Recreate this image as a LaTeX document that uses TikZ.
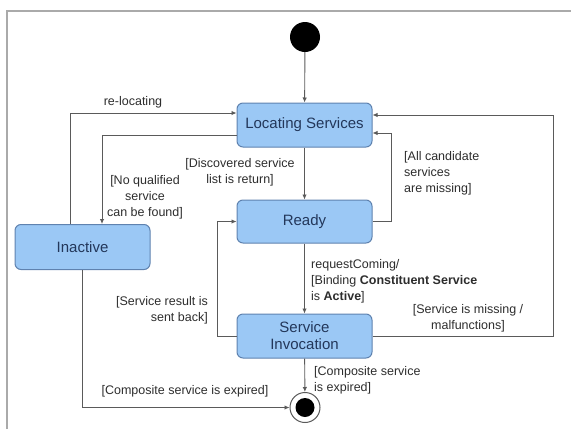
\documentclass[tikz,border=0pt]{standalone}
\usepackage{fontspec}
\setmainfont{Liberation Sans}
\usetikzlibrary{arrows.meta}
\definecolor{boxfill}{RGB}{155,200,245}
\definecolor{boxdraw}{RGB}{95,130,175}
\definecolor{boxtext}{RGB}{35,55,90}
\definecolor{lbl}{RGB}{45,45,45}
\definecolor{ln}{RGB}{90,90,90}
\definecolor{framec}{RGB}{170,170,170}
\tikzset{
  state/.style={draw=boxdraw, fill=boxfill, rounded corners=6pt, line width=1pt,
    minimum width=135pt, minimum height=44pt, inner sep=0pt,
    font=\fontsize{15}{17}\selectfont, text=boxtext, align=center},
  conn/.style={draw=ln, line width=0.9pt, -{Latex[length=5pt,width=4.5pt]}},
  lab/.style={font=\fontsize{12.5}{16}\selectfont, text=lbl, inner sep=0pt},
}
\begin{document}
\begin{tikzpicture}[x=1pt,y=-1pt]
\useasboundingbox (0,0) rectangle (571,429);
\draw[framec, line width=1.5pt] (7,429) -- (7,11) -- (571,11);

\node[circle, fill=black, minimum size=30pt, inner sep=0pt] (init) at (305,37) {};
\node[state] (loc) at (304.5,125) {Locating Services};
\node[state, minimum height=43pt] (ready) at (304.5,221.5) {Ready};
\node[state, minimum height=45pt] (inact) at (82.5,247) {Inactive};
\node[state] (inv) at (304.5,336) {Service\\Invocation};
\node[circle, draw=ln, fill=white, line width=1pt, minimum size=30pt, inner sep=0pt] (fin) at (305,407.5) {};
\node[circle, fill=black, minimum size=19pt, inner sep=0pt] (fininner) at (fin.center) {};

\coordinate (rl) at (70,113);
\coordinate (nq) at (102,135);
\coordinate (ac) at (391,133);
\coordinate (sm) at (553,115);
\coordinate (sb1) at (217,336);
\coordinate (sb2) at (217,221.5);

\draw[conn] (init) -- (loc);
\draw[conn] (inact.north -| rl) |- (loc.west |- rl);
\draw[conn] (loc.west |- nq) -| (inact.north -| nq);
\draw[conn] (loc) -- (ready);
\draw[conn] (ready.east) -| (ac) -- (loc.east |- ac);
\draw[conn] (ready) -- (inv);
\draw[conn] (inv.west) -- (sb1) -- (sb2) -- (ready.west);
\draw[conn] (inv.east) -| (sm) -- (loc.east |- sm);
\draw[conn] (inv) -- (fin);
\draw[conn] (inact.south) |- (fin.west);

\node[lab] (l1) at (133,102) {re-locating};
\node[lab, align=center] (l2) at (145,197) {{[No qualified}\\service\\can be found]};
\node[lab, align=center] (l3) at (240,172) {{[Discovered service}\\list is return]};
\node[lab, align=left, anchor=west] (l4) at (404,173) {{[All candidate}\\services\\are missing]};
\node[lab, align=left, anchor=west] (l5) at (311,281) {requestComing/\\{[Binding} \textbf{Constituent Service}\\is \textbf{Active}]};
\node[lab, align=right, anchor=east] (l6) at (208,310) {{[Service result is}\\sent back]};
\node[lab, align=center] (l7) at (468,318) {{[Service is missing /}\\malfunctions]};
\node[lab, align=left, anchor=west] (l8) at (314,380) {{[Composite service}\\is expired]};
\node[lab] (l9) at (185,391) {{[Composite service is expired]}};
\end{tikzpicture}
\end{document}
